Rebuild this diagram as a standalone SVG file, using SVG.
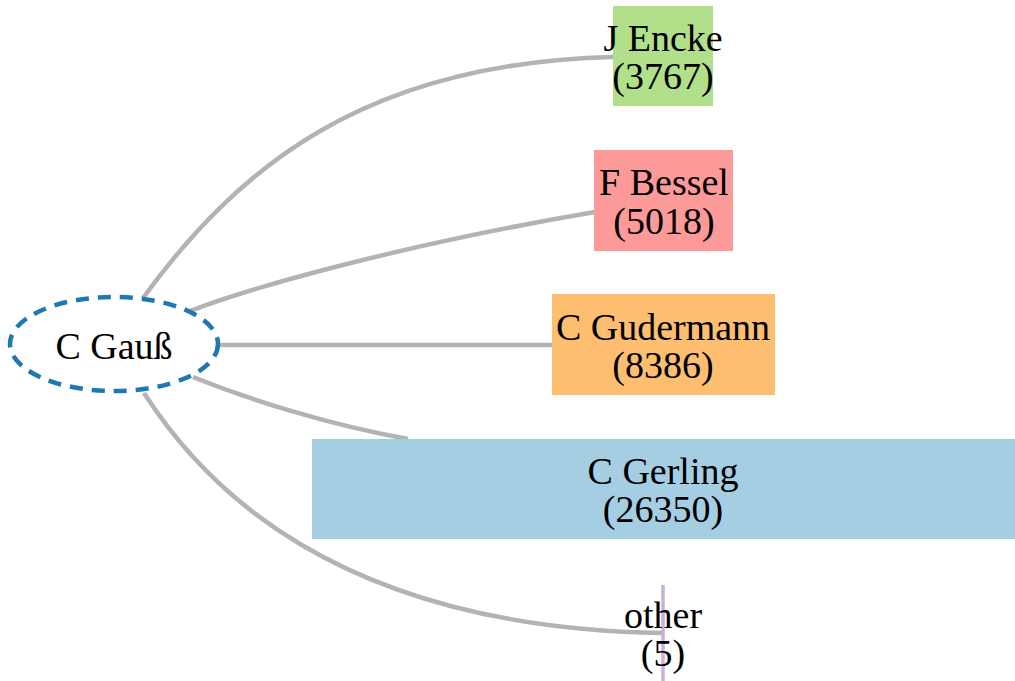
<svg xmlns="http://www.w3.org/2000/svg" width="1015" height="681" viewBox="0 0 1015 681">
<style>
text{font-family:"Liberation Serif","Times New Roman",serif;font-size:38px;fill:#000;text-anchor:middle}
.e{fill:none;stroke:#b3b3b3;stroke-width:4.5}
</style>
<rect width="1015" height="681" fill="#fff"/>
<g id="edges">
<path class="e" d="M143,298 C235,172 360,63 613,57"/>
<path class="e" d="M190,311 C250,288 400,245 595,212"/>
<path class="e" d="M218,345 L552,345"/>
<path class="e" d="M193,377 C250,400 330,425 408,439"/>
<path class="e" d="M144,393 C200,480 330,628 663,633"/>
</g>
<g id="gauss">
<ellipse cx="114" cy="344" rx="104" ry="47" fill="#fff" stroke="#1f78b4" stroke-width="4.5" stroke-dasharray="13,9"/>
<text x="114" y="359">C Gauß</text>
</g>
<g id="encke">
<rect x="613" y="6" width="100" height="100" fill="#b2df8a"/>
<text x="663" y="51">J Encke</text>
<text x="663" y="89">(3767)</text>
</g>
<g id="bessel">
<rect x="594" y="150" width="139" height="101" fill="#fb9a99"/>
<text x="664" y="195">F Bessel</text>
<text x="664" y="234">(5018)</text>
</g>
<g id="gudermann">
<rect x="552" y="294" width="223" height="101" fill="#fdbf6f"/>
<text x="663" y="340">C Gudermann</text>
<text x="663" y="378">(8386)</text>
</g>
<g id="gerling">
<rect x="312" y="439" width="703" height="100" fill="#a6cee3"/>
<text x="663" y="484">C Gerling</text>
<text x="663" y="522">(26350)</text>
</g>
<g id="other">
<line x1="663" y1="585" x2="663" y2="681" stroke="#cab2d6" stroke-width="3.5"/>
<text x="663" y="628">other</text>
<text x="663" y="666">(5)</text>
</g>
</svg>
